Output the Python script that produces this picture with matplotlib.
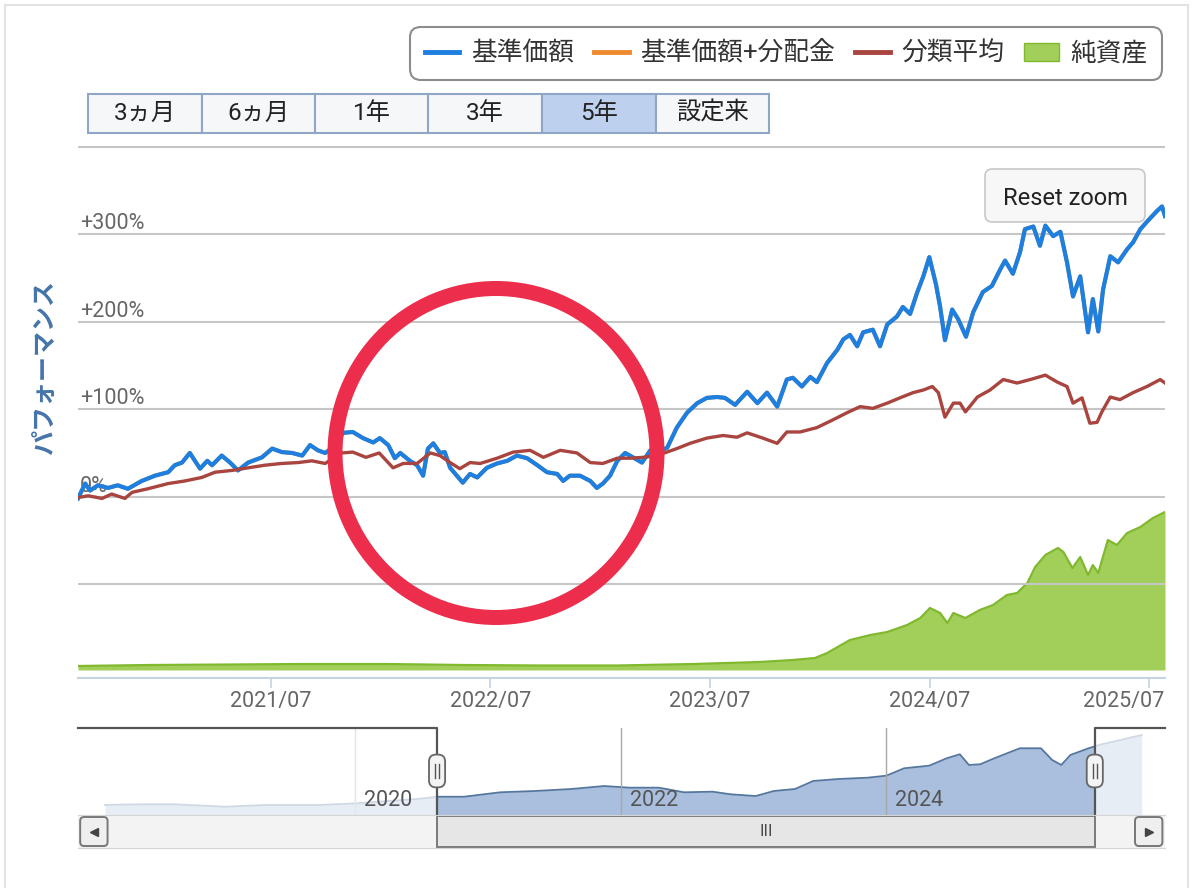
import numpy as np
import pandas as pd
import matplotlib
matplotlib.use("Agg")
import matplotlib.pyplot as plt
from matplotlib.patches import Rectangle, FancyBboxPatch, Ellipse, Patch
from matplotlib.lines import Line2D
from matplotlib.transforms import ScaledTranslation
from matplotlib.offsetbox import DrawingArea, AnnotationBbox

plt.rcParams['font.family'] = ['Roboto', 'Noto Sans CJK JP', 'DejaVu Sans']

# ---- data ----
window_start = '2020-08-14'
window_end = '2025-07-27'
nav_range = ('2017-12-01', '2026-02-05')

# 基準価額 performance (%)
fund_dates = ['2020-08-14','2020-08-26','2020-09-03','2020-09-16','2020-10-03','2020-10-19','2020-11-05','2020-11-28','2020-12-20','2021-01-11',
              '2021-01-22','2021-02-03','2021-02-16','2021-03-05','2021-03-17','2021-03-25','2021-04-10','2021-04-24','2021-05-07','2021-05-24',
              '2021-06-16','2021-07-03','2021-07-19','2021-08-05','2021-08-22','2021-09-04','2021-09-17','2021-09-29','2021-10-12','2021-10-29',
              '2021-11-14','2021-12-01','2021-12-18','2021-12-29','2022-01-12','2022-01-23','2022-02-01','2022-02-17','2022-03-01','2022-03-11',
              '2022-03-19','2022-03-28','2022-04-08','2022-04-16','2022-04-25','2022-05-06','2022-05-16','2022-05-28','2022-06-09','2022-06-25',
              '2022-07-12','2022-07-29','2022-08-14','2022-08-31','2022-09-17','2022-10-03','2022-10-20','2022-10-30','2022-11-10','2022-11-27',
              '2022-12-14','2022-12-25','2023-01-04','2023-01-16','2023-01-28','2023-02-10','2023-02-23','2023-03-10','2023-03-24','2023-04-01',
              '2023-04-21','2023-05-07','2023-05-24','2023-06-10','2023-06-26','2023-07-13','2023-07-26','2023-08-12','2023-09-01','2023-09-18',
              '2023-10-04','2023-10-21','2023-11-06','2023-11-16','2023-12-01','2023-12-15','2023-12-26','2024-01-12','2024-01-29','2024-02-08',
              '2024-02-19','2024-03-02','2024-03-12','2024-03-28','2024-04-09','2024-04-21','2024-05-07','2024-05-17','2024-05-29','2024-06-10',
              '2024-06-20','2024-06-30','2024-07-11','2024-07-18','2024-07-26','2024-08-07','2024-08-17','2024-08-30','2024-09-11','2024-09-27',
              '2024-10-12','2024-10-26','2024-11-03','2024-11-16','2024-11-28','2024-12-06','2024-12-20','2024-12-31','2025-01-09','2025-01-22',
              '2025-02-03','2025-02-14','2025-02-24','2025-03-08','2025-03-21','2025-03-29','2025-04-07','2025-04-15','2025-04-27','2025-05-10',
              '2025-05-25','2025-06-04','2025-06-16','2025-06-29','2025-07-14','2025-07-22','2025-07-27']
fund_perf = [-2, 15, 7, 13, 10, 13, 9, 18, 24, 28,
             36, 39, 50, 32, 41, 36, 47, 39, 30, 39,
             45, 55, 51, 50, 47, 59, 53, 50, 56, 73,
             74, 67, 62, 67, 59, 44, 50, 41, 36, 24,
             55, 61, 50, 51, 33, 24, 16, 26, 22, 33,
             38, 41, 47, 44, 36, 28, 26, 18, 24, 24,
             18, 10, 15, 24, 41, 50, 45, 39, 53, 50,
             56, 79, 96, 107, 113, 114, 113, 105, 120, 107,
             119, 103, 134, 136, 126, 137, 131, 153, 168, 180,
             185, 172, 188, 191, 172, 197, 206, 217, 209, 234,
             252, 274, 243, 217, 179, 214, 203, 183, 211, 234,
             241, 260, 270, 255, 280, 306, 309, 287, 310, 298,
             303, 268, 229, 252, 188, 226, 189, 237, 275, 268,
             283, 291, 306, 316, 327, 332, 321]
# 基準価額+分配金: no distributions, so it lies exactly under the blue line
dist_perf = fund_perf

# 分類平均 performance (%)
avg_dates = ['2020-08-14','2020-08-31','2020-09-23','2020-10-09','2020-10-31','2020-11-12','2020-12-08','2021-01-11','2021-02-08','2021-03-08',
             '2021-03-30','2021-04-27','2021-05-24','2021-06-21','2021-07-19','2021-08-15','2021-09-07','2021-09-29','2021-10-27','2021-11-14',
             '2021-12-06','2021-12-28','2022-01-20','2022-02-06','2022-03-01','2022-03-23','2022-04-08','2022-04-25','2022-05-11','2022-05-28',
             '2022-06-14','2022-07-12','2022-08-08','2022-09-05','2022-09-27','2022-10-25','2022-11-22','2022-12-14','2023-01-04','2023-01-28',
             '2023-02-18','2023-03-12','2023-04-04','2023-05-07','2023-05-29','2023-06-26','2023-07-23','2023-08-15','2023-09-01','2023-09-27',
             '2023-10-21','2023-11-06','2023-11-28','2023-12-26','2024-01-22','2024-02-14','2024-03-07','2024-03-28','2024-04-21','2024-05-12',
             '2024-06-03','2024-06-20','2024-07-05','2024-07-15','2024-07-26','2024-08-09','2024-08-20','2024-08-29','2024-09-18','2024-10-09',
             '2024-10-31','2024-11-23','2024-12-15','2025-01-09','2025-01-29','2025-02-14','2025-02-24','2025-03-11','2025-03-24','2025-04-05',
             '2025-04-13','2025-04-27','2025-05-13','2025-06-04','2025-06-27','2025-07-19','2025-07-27']
avg_perf = [-1, 1, -2, 3, -2, 5, 9, 15, 18, 22,
            28, 30, 33, 36, 38, 39, 41, 38, 50, 51,
            45, 50, 33, 38, 38, 50, 47, 39, 32, 39,
            38, 44, 51, 53, 45, 53, 50, 39, 38, 44,
            44, 45, 47, 55, 61, 67, 70, 68, 73, 67,
            61, 74, 74, 79, 88, 96, 103, 101, 107, 113,
            119, 122, 126, 119, 91, 107, 107, 97, 114, 122,
            134, 130, 134, 139, 131, 126, 107, 113, 84, 85,
            97, 114, 111, 119, 126, 134, 130]

# 純資産 (億円, secondary axis without labels)
asset_dates = ['2020-08-14','2020-12-12','2021-04-25','2021-08-18','2022-01-08','2022-05-16','2022-09-22','2023-01-28','2023-06-05','2023-09-22',
               '2023-11-16','2023-12-23','2024-01-12','2024-02-19','2024-03-24','2024-04-21','2024-05-24','2024-06-15','2024-07-01','2024-07-18',
               '2024-07-30','2024-08-09','2024-08-29','2024-09-22','2024-10-14','2024-11-06','2024-11-23','2024-12-10','2024-12-23','2025-01-09',
               '2025-01-30','2025-02-08','2025-02-23','2025-03-08','2025-03-21','2025-03-29','2025-04-07','2025-04-23','2025-05-08','2025-05-25',
               '2025-06-16','2025-07-07','2025-07-27']
asset_oku = [40, 50, 55, 60, 60, 50, 45, 45, 60, 80,
             100, 120, 170, 300, 350, 380, 450, 520, 620, 570,
             470, 570, 520, 600, 650, 750, 770, 870, 1030, 1150,
             1220, 1180, 1020, 1130, 950, 1050, 970, 1300, 1250, 1370,
             1430, 1520, 1580]

# navigator series (whole history, index scale)
nav_dates = ['2018-02-13','2018-05-17','2018-08-24','2019-01-10','2019-04-28','2019-09-25','2020-01-04','2020-06-19','2020-08-18','2020-10-27',
             '2021-02-04','2021-05-11','2021-08-19','2021-11-16','2022-01-25','2022-04-16','2022-06-24','2022-09-10','2022-10-30','2023-01-07',
             '2023-02-26','2023-04-25','2023-06-14','2023-08-23','2023-11-11','2024-01-01','2024-02-19','2024-04-28','2024-06-15','2024-07-21',
             '2024-08-15','2024-09-15','2024-10-24','2025-01-02','2025-03-01','2025-04-01','2025-04-26','2025-05-21','2025-07-10','2025-08-15',
             '2025-10-06','2025-12-03']
nav_index = [11.5, 12.3, 12.3, 9.5, 11.5, 11.5, 13.4, 18.4, 21, 21,
             26.1, 27.6, 29.9, 33.3, 31.4, 31.4, 26.1, 26.8, 23.8, 21.8,
             27.6, 29.9, 39.1, 41.4, 42.9, 45.2, 53.7, 56.7, 65.2, 69.8,
             57.5, 58.3, 65.2, 76.7, 76.7, 63.2, 57.5, 69, 76.7, 81.3,
             86.2, 92]

xtick_dates = ['2021-07-01', '2022-07-01', '2023-07-01', '2024-07-01', '2025-07-01']
xtick_labels = ['2021/07', '2022/07', '2023/07', '2024/07', '2025/07']
ytick_vals = [-100, 0, 100, 200, 300, 400]
ytick_labels = ['', '0%', '+100%', '+200%', '+300%', '']
nav_year_ticks = ['2020-01-01', '2022-01-01', '2024-01-01']
nav_year_labels = ['2020', '2022', '2024']
legend_labels = ['基準価額', '基準価額+分配金', '分類平均', '純資産']
range_labels = ['3ヵ月', '6ヵ月', '1年', '3年', '5年', '設定来']
selected_range = '5年'

# ---- styles ----
c_blue = '#1d7fdf'
c_orange = '#ef8a2e'
c_red = '#a9443f'
c_green = '#a2ce5a'
c_green_edge = '#80b82e'
W, H = 1200, 888


def fig_rect(x0, y0, x1, y1):
    return [x0 / W, 1 - y1 / H, (x1 - x0) / W, (y1 - y0) / H]


fund_d = pd.to_datetime(fund_dates)
avg_d = pd.to_datetime(avg_dates)
asset_d = pd.to_datetime(asset_dates)
nav_d = pd.to_datetime(nav_dates)
w0, w1 = pd.Timestamp(window_start), pd.Timestamp(window_end)
n0, n1 = pd.Timestamp(nav_range[0]), pd.Timestamp(nav_range[1])

fig = plt.figure(figsize=(12, 8.88), dpi=100)

# outer frame
fig.add_artist(Rectangle((5 / W, -0.01), 1183 / W, 1 - 5 / H + 0.01, transform=fig.transFigure,
                         fill=False, ec='#e3e3e3', lw=1.5))

# ---- main chart ----
ax = fig.add_axes(fig_rect(78, 146, 1165, 678))
ax2 = ax.twinx()
ax.set_zorder(ax2.get_zorder() + 1)
ax.patch.set_visible(False)

ax2.fill_between(asset_d, asset_oku, color=c_green, lw=0)
ax2.plot(asset_d, asset_oku, color=c_green_edge, lw=1.6)
ax2.set_ylim(-80, 5240)
ax2.set_yticks([])
for s in ax2.spines.values():
    s.set_visible(False)

ax.plot(fund_d, dist_perf, color=c_orange, lw=2.8)
ax.plot(fund_d, fund_perf, color=c_blue, lw=3.0)
ax.plot(avg_d, avg_perf, color=c_red, lw=2.4)

ax.set_xlim(w0, w1)
ax.set_ylim(-207.4, 401.1)
ax.set_yticks(ytick_vals, labels=ytick_labels)
ax.grid(axis='y', color='#c6c6c6', lw=1.5)
ax.tick_params(axis='y', length=0, pad=-1.5, labelsize=15.5, labelcolor='#666666')
for lbl in ax.get_yticklabels():
    lbl.set_horizontalalignment('left')
    lbl.set_verticalalignment('bottom')

ax.set_xticks(pd.to_datetime(xtick_dates), labels=xtick_labels)
ax.tick_params(axis='x', length=7.5, width=1.2, color='#c5d3e3', labelsize=15.5,
               labelcolor='#666666', pad=2)
last = ax.get_xticklabels()[-1]
last.set_transform(last.get_transform() + ScaledTranslation(-0.26, 0, fig.dpi_scale_trans))

for side in ['left', 'right', 'top']:
    ax.spines[side].set_visible(False)
ax.spines['bottom'].set_color('#c5d3e3')
ax.spines['bottom'].set_linewidth(1.5)

ax.set_ylabel('パフォーマンス', color='#4574aa', fontsize=18, fontweight='bold')
ax.yaxis.set_label_coords(-0.0193, 0.583)

# legend
handles = [Line2D([], [], color=c_blue, lw=3.5),
           Line2D([], [], color=c_orange, lw=3.5),
           Line2D([], [], color=c_red, lw=3.5),
           Patch(fc=c_green, ec=c_green_edge)]
leg = fig.legend(handles, legend_labels, loc='upper right', bbox_to_anchor=(1162 / W, 1 - 27 / H),
                 ncol=4, fontsize=18.5, frameon=True, fancybox=True, edgecolor='#8c8c8c',
                 framealpha=1, handlelength=1.35, handletextpad=0.45, columnspacing=0.78,
                 borderpad=0.55, borderaxespad=0, labelcolor='#333333')
leg.get_frame().set_linewidth(1.5)
leg.get_frame().set_boxstyle('round', pad=0, rounding_size=0.4)

# range buttons
for i, lab in enumerate(range_labels):
    x0 = 88 + i * 113.5
    sel = lab == selected_range
    fig.add_artist(Rectangle((x0 / W, 1 - 133 / H), 113.5 / W, 39 / H, transform=fig.transFigure,
                             fc='#bdd1ee' if sel else '#f6f7f9', ec='#8fa6c6', lw=1.5))
    fig.text((x0 + 56.75) / W, 1 - 113.5 / H, lab, ha='center', va='center',
             fontsize=17.5, color='#222222')

# reset zoom button
fig.add_artist(FancyBboxPatch((985 / W, 1 - 222 / H), 160 / W, 53 / H, transform=fig.transFigure,
                              boxstyle='round,pad=0,rounding_size=0.006', mutation_aspect=W / H,
                              fc='#f7f7f7', ec='#c8c8c8', lw=1.2, zorder=6))
fig.text(1065 / W, 1 - 198 / H, 'Reset zoom', ha='center', va='center', fontsize=17,
         color='#222222', zorder=7)

# ---- navigator ----
ax_nav = fig.add_axes(fig_rect(78, 728, 1165, 815))
ax_nav.fill_between(nav_d, nav_index, color='#a9bfdd', lw=0, zorder=1)
ax_nav.plot(nav_d, nav_index, color='#55779f', lw=1.3, zorder=2)
ax_nav.set_xlim(n0, n1)
ax_nav.set_ylim(0, 100)
ax_nav.set_xticks(pd.to_datetime(nav_year_ticks))
ax_nav.grid(axis='x', color='#a8a8a8', lw=1)
ax_nav.set_axisbelow(False)
ax_nav.tick_params(length=0, labelbottom=False, labelleft=False)
for s in ax_nav.spines.values():
    s.set_visible(False)
ax_nav.axvspan(n0, w0, color='white', alpha=0.72, lw=0, zorder=3)
ax_nav.axvspan(w1, n1, color='white', alpha=0.72, lw=0, zorder=3)
for d, lab in zip(pd.to_datetime(nav_year_ticks), nav_year_labels):
    ax_nav.annotate(lab, xy=(d, 0), xycoords=('data', 'axes fraction'), xytext=(6.5, 3),
                    textcoords='offset points', ha='left', va='bottom', fontsize=15.5,
                    color='#555555', zorder=4)
trans = ax_nav.get_xaxis_transform()
ax_nav.plot([n0, w0, w0], [1, 1, 0], transform=trans, color='#555555', lw=1.6,
            clip_on=False, zorder=5)
ax_nav.plot([w1, w1, n1], [0, 1, 1], transform=trans, color='#555555', lw=1.6,
            clip_on=False, zorder=5)
for d in (w0, w1):
    da = DrawingArea(13, 25)
    da.add_artist(FancyBboxPatch((0.7, 0.7), 11.6, 23.6, boxstyle='round,pad=0,rounding_size=5',
                                 fc='#f4f4f4', ec='#666666', lw=1.3))
    da.add_artist(Line2D([5, 5], [7.5, 17.5], color='#555555', lw=1))
    da.add_artist(Line2D([8, 8], [7.5, 17.5], color='#555555', lw=1))
    ab = AnnotationBbox(da, (d, 0.506), xycoords=('data', 'axes fraction'), frameon=False,
                        box_alignment=(0.5, 0.5), pad=0, annotation_clip=False, zorder=6)
    ax_nav.add_artist(ab)

# ---- scrollbar ----
ax_sb = fig.add_axes(fig_rect(78, 815, 1165, 848))
ax_sb.set_xlim(n0, n1)
ax_sb.set_ylim(0, 1)
ax_sb.set_facecolor('#f3f3f3')
ax_sb.set_xticks([])
ax_sb.set_yticks([])
for side in ['left', 'right']:
    ax_sb.spines[side].set_visible(False)
for side in ['top', 'bottom']:
    ax_sb.spines[side].set_color('#d4d4d4')
ax_sb.axvspan(w0, w1, ymin=0.04, ymax=0.96, fc='#e6e6e6', ec='#7a7a7a', lw=1.4)
ax_sb.text(w0 + (w1 - w0) / 2, 0.5, 'III', ha='center', va='center', fontsize=11,
           color='#444444', family='DejaVu Sans')
for bx in (0.002, 0.9724):
    ax_sb.add_patch(FancyBboxPatch((bx, 0.06), 0.0252, 0.88, transform=ax_sb.transAxes,
                                   boxstyle='round,pad=0,rounding_size=0.0037', mutation_aspect=32.9,
                                   fc='#efefef', ec='#777777', lw=1.4, clip_on=False))
ax_sb.plot([0.0148], [0.5], marker='<', ms=5.5, color='#444444', transform=ax_sb.transAxes,
           clip_on=False)
ax_sb.plot([0.985], [0.5], marker='>', ms=5.5, color='#444444', transform=ax_sb.transAxes,
           clip_on=False)

# red marker circle drawn over the chart
fig.add_artist(Ellipse((496 / W, 1 - 453 / H), 322 / W, 329 / H, transform=fig.transFigure,
                       fill=False, ec='#ec2e4c', lw=10.8, zorder=10))

fig.savefig('out.png', dpi=100)
